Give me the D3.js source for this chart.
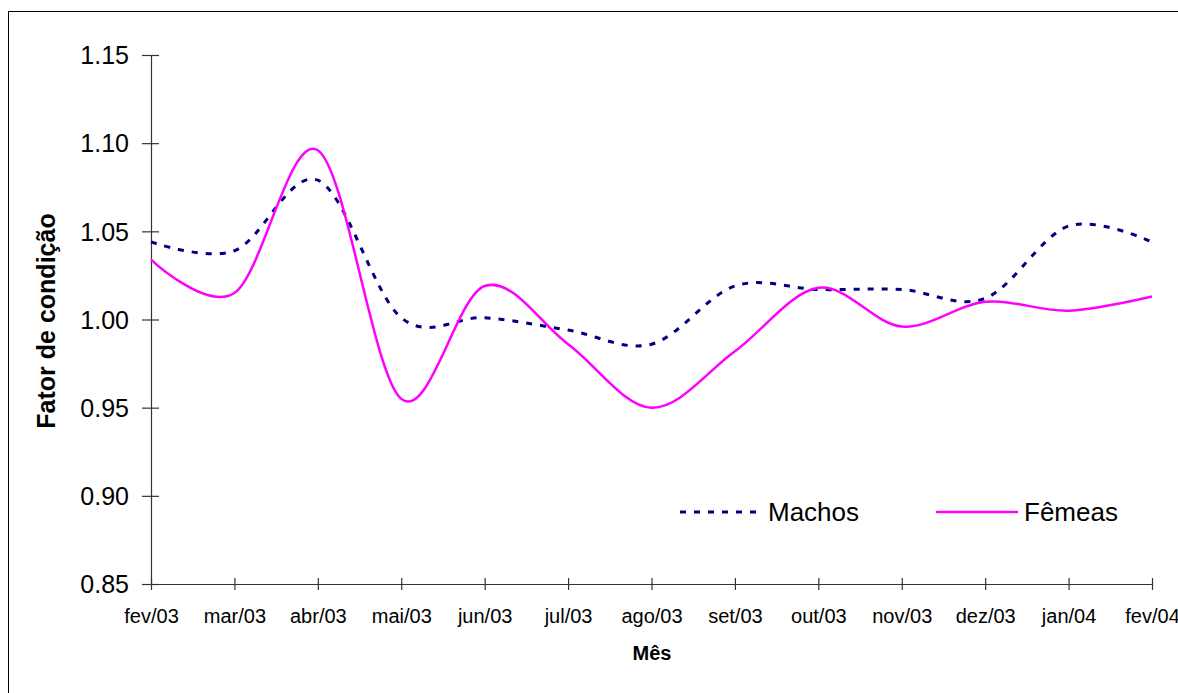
<!DOCTYPE html>
<html>
<head>
<meta charset="utf-8">
<script src="https://cdn.jsdelivr.net/npm/d3@7"></script>
<style>
  html, body { margin: 0; background: #fff; overflow: hidden; }
  svg { display: block; }
  svg text { font-family: "Liberation Sans", Arial, sans-serif; fill: #000; }
</style>
</head>
<body>
<div id="graph-container"></div>
<script>
const months = ["fev/03", "mar/03", "abr/03", "mai/03", "jun/03", "jul/03", "ago/03",
    "set/03", "out/03", "nov/03", "dez/03", "jan/04", "fev/04"];
const machos = [1.044, 1.039, 1.079, 1.001, 1.001, 0.994, 0.986, 1.019, 1.017, 1.017, 1.012, 1.053, 1.044];
const femeas = [1.034, 1.015, 1.096, 0.955, 1.019, 0.986, 0.950, 0.982, 1.018, 0.996, 1.010, 1.005, 1.013];
const yTicks = [0.85, 0.90, 0.95, 1.00, 1.05, 1.10, 1.15];

const width = 1178;
const height = 693;
const margin = { top: 55, right: 26, bottom: 109, left: 151 };
const innerWidth = width - margin.left - margin.right;
const innerHeight = height - margin.top - margin.bottom;

const svg = d3.select("#graph-container")
    .append("svg")
    .attr("width", width)
    .attr("height", height);

// outer frame: only the left and top edges fall inside the picture
svg.append("path")
    .attr("d", `M8.5,${height} V11.5 H${width}`)
    .attr("fill", "none").attr("stroke", "#000").attr("stroke-width", 1);

const g = svg.append("g")
    .attr("transform", `translate(${margin.left}, ${margin.top})`);

const xScale = d3.scalePoint()
    .domain(months)
    .range([0, innerWidth]);

const yScale = d3.scaleLinear()
    .domain([0.85, 1.15])
    .range([innerHeight, 0]);

const xAxis = d3.axisBottom(xScale).tickSizeInner(6).tickSizeOuter(0).tickPadding(0);
const yAxis = d3.axisLeft(yScale).tickValues(yTicks).tickFormat(d3.format(".2f"))
    .tickSizeInner(0).tickSizeOuter(0).tickPadding(0);

const gx = g.append("g")
    .attr("transform", `translate(0, ${innerHeight})`)
    .call(xAxis);
gx.select(".domain").attr("stroke", "#333").attr("stroke-width", 1.2);
gx.selectAll(".tick line").attr("y1", -6).attr("y2", 6).attr("stroke", "#333").attr("stroke-width", 1.2);
gx.selectAll(".tick text")
    .attr("y", 39).attr("dy", 0)
    .attr("font-size", 20).attr("font-family", "Liberation Sans, Arial, sans-serif");

const gy = g.append("g").call(yAxis);
gy.select(".domain").attr("stroke", "#333").attr("stroke-width", 1.2);
gy.selectAll(".tick line").attr("x1", -9).attr("x2", 8).attr("stroke", "#333").attr("stroke-width", 1.2);
gy.selectAll(".tick text")
    .attr("x", -22).attr("dy", "0.35em")
    .attr("font-size", 25).attr("font-family", "Liberation Sans, Arial, sans-serif");

const line = d3.line()
    .x((d, i) => xScale(months[i]))
    .y(d => yScale(d))
    .curve(d3.curveCardinal.tension(0));

g.append("path")
    .datum(machos)
    .attr("d", line)
    .attr("fill", "none")
    .attr("stroke", "#000080")
    .attr("stroke-width", 3)
    .attr("stroke-dasharray", "6,8");

g.append("path")
    .datum(femeas)
    .attr("d", line)
    .attr("fill", "none")
    .attr("stroke", "#ff00ff")
    .attr("stroke-width", 2.5);

// axis titles
svg.append("text")
    .attr("transform", "translate(55, 321) rotate(-90)")
    .attr("text-anchor", "middle")
    .attr("font-size", 25).attr("font-weight", "bold")
    .text("Fator de condição");

svg.append("text")
    .attr("x", 652).attr("y", 660)
    .attr("text-anchor", "middle")
    .attr("font-size", 20).attr("font-weight", "bold")
    .text("Mês");

// legend
const legend = [
    { name: "Machos", color: "#000080", dash: "6,8", width: 3, x: 680 },
    { name: "Fêmeas", color: "#ff00ff", dash: null, width: 2.5, x: 936 }
];
legend.forEach(l => {
    svg.append("line")
        .attr("x1", l.x).attr("x2", l.x + 82)
        .attr("y1", 512).attr("y2", 512)
        .attr("stroke", l.color).attr("stroke-width", l.width)
        .attr("stroke-dasharray", l.dash);
    svg.append("text")
        .attr("x", l.x + 88).attr("y", 521)
        .attr("font-size", 26)
        .text(l.name);
});
</script>
</body>
</html>
